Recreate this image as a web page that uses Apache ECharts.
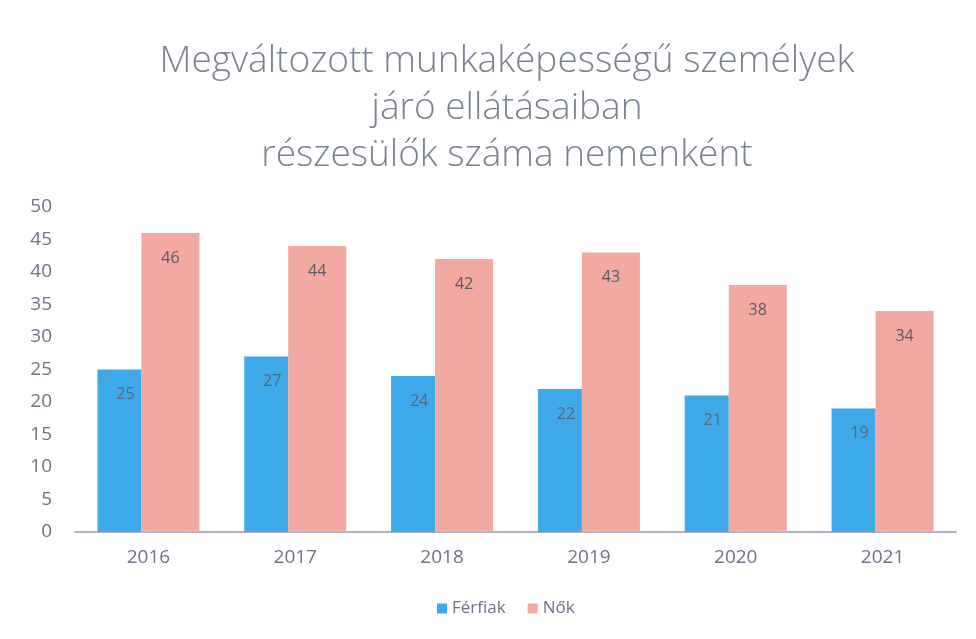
<!DOCTYPE html>
<html>
<head>
<meta charset="utf-8">
<script src="https://cdn.jsdelivr.net/npm/echarts@6/dist/echarts.min.js"></script>
<style>
  html, body { margin: 0; padding: 0; background: #fff; }
  #main { width: 976px; height: 639px; }
</style>
</head>
<body>
<div id="main"></div>
<script>
var years = ["2016", "2017", "2018", "2019", "2020", "2021"];
var ferfiak = [25, 27, 24, 22, 21, 19];
var nok = [46, 44, 42, 43, 38, 34];
var seriesNames = ["Férfiak", "Nők"];
var titleText = "Megváltozott munkaképességű személyek\njáró ellátásaiban\nrészesülők száma nemenként";

var textColor = "#6b7385";
var myChart = echarts.init(document.getElementById("main"));

var option = {
  animation: false,
  title: {
    text: titleText,
    left: 502,
    top: 33,
    textAlign: "center",
    textStyle: {
      fontFamily: "Open Sans",
      fontWeight: 300,
      fontSize: 37,
      lineHeight: 47,
      color: "#7a8292"
    }
  },
  legend: {
    data: seriesNames,
    bottom: 17,
    left: 432,
    itemWidth: 10,
    itemHeight: 10,
    itemGap: 22,
    icon: "rect",
    textStyle: { fontFamily: "Open Sans", fontSize: 17, color: textColor }
  },
  grid: { left: 75, right: 20, top: 207, bottom: 107, containLabel: false },
  xAxis: {
    type: "category",
    data: years,
    axisTick: { show: false },
    axisLine: { lineStyle: { color: "#b0b0c4", width: 2 } },
    axisLabel: { fontFamily: "Open Sans", fontSize: 19, color: textColor, margin: 16 }
  },
  yAxis: {
    type: "value",
    min: 0,
    max: 50,
    interval: 5,
    splitLine: { show: false },
    axisLine: { show: false },
    axisTick: { show: false },
    axisLabel: { fontFamily: "Open Sans", fontSize: 19, color: textColor, margin: 23 }
  },
  series: [
    {
      name: seriesNames[0],
      type: "bar",
      data: ferfiak,
      barWidth: 44,
      barGap: "0%",
      itemStyle: { color: "#3ea9e8" },
      label: {
        show: true,
        position: "insideTop",
        distance: 17,
        offset: [6, 0],
        fontFamily: "Open Sans",
        fontSize: 16,
        color: "#5c6578"
      }
    },
    {
      name: seriesNames[1],
      type: "bar",
      data: nok,
      barWidth: 58,
      itemStyle: { color: "#f2a9a2" },
      label: {
        show: true,
        position: "insideTop",
        distance: 17,
        fontFamily: "Open Sans",
        fontSize: 16,
        color: "#555a66"
      }
    }
  ]
};

myChart.setOption(option);
</script>
</body>
</html>
